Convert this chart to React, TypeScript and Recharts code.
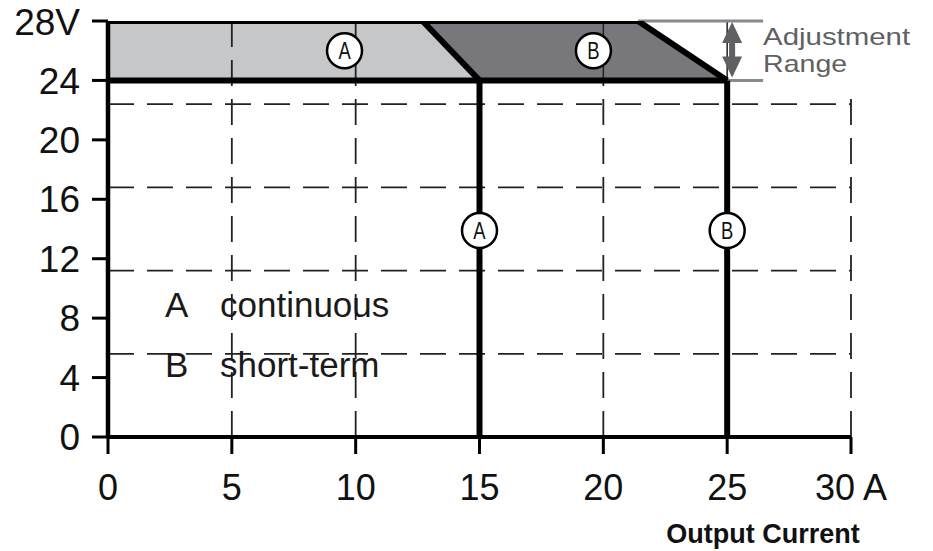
import React from 'react';
import { ComposedChart, Area, Line, XAxis, YAxis, ReferenceLine, ReferenceDot, Legend } from 'recharts';

const currentTicks = [0, 5, 10, 15, 20, 25, 30];
const currentTickLabels = ['0', '5', '10', '15', '20', '25', '30 A'];
const voltTicks = [0, 4, 8, 12, 16, 20, 24, 28];
const voltTickLabels = ['0', '4', '8', '12', '16', '20', '24', '28V'];

// shaded regions, range areas [low, high] in volts
const regionCurrent = [0, 12.7, 15, 21.4, 25];
const continuousLow = [24, 24, 24, null, null];
const continuousHigh = [28, 28, 24, null, null];
const shortTermLow = [null, 28, 24, 24, 24];
const shortTermHigh = [null, 28, 28, 28, 24];

// boundary curves
const outerCurrent = [0, 21.4, 25];
const outerVolt = [28, 28, 24];
const splitCurrent = [12.7, 15];
const splitVolt = [28, 24];
const floorCurrent = [0, 25];
const floorVolt = [24, 24];
const contDropCurrent = [15, 15];
const contDropVolt = [24, 0];
const shortDropCurrent = [25, 25];
const shortDropVolt = [24, 0];

// background grid of the original sheet
const gridVolt = [5.6, 11.2, 16.8, 22.4];
const gridCurrent = [5, 10];

const markerNames = ['A', 'B', 'A', 'B'];
const markerCurrent = [9.55, 19.6, 15, 25];
const markerVolt = [26, 26, 13.9, 13.9];

const legendKeys = ['A', 'B'];
const legendNames = ['continuous', 'short-term'];

const FONT = '"Liberation Sans", Arial, sans-serif';
const FILL_A = '#c6c7c9';
const FILL_B = '#78787c';
const DASH = '26 13';

const regionData = regionCurrent.map((x, i) => ({
  x,
  cont: continuousLow[i] == null ? null : [continuousLow[i], continuousHigh[i]],
  short: shortTermLow[i] == null ? null : [shortTermLow[i], shortTermHigh[i]],
}));

const toPoints = (xs: number[], vs: number[]) => xs.map((x, i) => ({ x, v: vs[i] }));
const curves = [
  toPoints(outerCurrent, outerVolt),
  toPoints(splitCurrent, splitVolt),
  toPoints(floorCurrent, floorVolt),
  toPoints(contDropCurrent, contDropVolt),
  toPoints(shortDropCurrent, shortDropVolt),
];

const AdjustArrow = (props: any) => {
  const { x1, y1, y2 } = props;
  const top = Math.min(y1, y2) + 1;
  const bottom = Math.max(y1, y2) - 3;
  const head = 21;
  const hw = 10;
  const sw = 3;
  const d = `M${x1},${top} L${x1 + hw},${top + head} L${x1 + sw},${top + head} L${x1 + sw},${bottom - head} L${x1 + hw},${bottom - head} L${x1},${bottom} L${x1 - hw},${bottom - head} L${x1 - sw},${bottom - head} L${x1 - sw},${top + head} L${x1 - hw},${top + head} Z`;
  return (
    <g>
      <path d={d} fill="#5f6063" />
      <text x={x1 + 31} y={top + 23} fontFamily={FONT} fontSize={24} fill="#5f6063"
        textLength={147} lengthAdjust="spacingAndGlyphs">Adjustment</text>
      <text x={x1 + 31} y={top + 50} fontFamily={FONT} fontSize={24} fill="#5f6063"
        textLength={84} lengthAdjust="spacingAndGlyphs">Range</text>
    </g>
  );
};

const markerLabel = (name: string) => (props: any) => {
  const vb = props.viewBox || {};
  const cx = vb.x + vb.width / 2;
  const cy = vb.y + vb.height / 2;
  return (
    <text x={cx} y={cy + 8.5} textAnchor="middle" fontFamily={FONT} fontSize={23} fill="#111"
      transform={`translate(${cx},0) scale(0.8,1) translate(${-cx},0)`}>
      {name}
    </text>
  );
};

const axisTitle = (props: any) => {
  const vb = props.viewBox || {};
  return (
    <text x={vb.x + vb.width - 88} y={vb.y + 106} textAnchor="middle" fontFamily={FONT}
      fontSize={27} fontWeight="bold" fill="#111">
      Output Current
    </text>
  );
};

const legendContent = () => (
  <div style={{ fontFamily: FONT, fontSize: 35, color: '#1a1a1a', lineHeight: '60px' }}>
    {legendKeys.map((k, i) => (
      <div key={k} style={{ whiteSpace: 'nowrap' }}>
        <span style={{ display: 'inline-block', width: 55 }}>{k}</span>
        {legendNames[i]}
      </div>
    ))}
  </div>
);

export default function App() {
  return (
    <div style={{ position: 'absolute', left: 0, top: 0, background: '#fff' }}>
      <ComposedChart width={933} height={551} data={regionData}
        margin={{ top: 21, right: 82, bottom: 0, left: 8 }}>
        <XAxis dataKey="x" type="number" domain={[0, 30]} ticks={currentTicks} allowDataOverflow
          tickFormatter={(v: number) => currentTickLabels[currentTicks.indexOf(v)]}
          height={114} tickSize={17} tickMargin={20}
          axisLine={{ stroke: '#000', strokeWidth: 4 }} tickLine={{ stroke: '#000', strokeWidth: 3 }}
          tick={{ fill: '#111', fontSize: 36, fontFamily: FONT }}
          label={axisTitle} />
        <YAxis type="number" domain={[0, 28]} ticks={voltTicks} allowDataOverflow
          tickFormatter={(v: number) => voltTickLabels[voltTicks.indexOf(v)]}
          width={100} tickSize={16} tickMargin={12}
          axisLine={{ stroke: '#000', strokeWidth: 4.5 }} tickLine={{ stroke: '#000', strokeWidth: 3 }}
          tick={{ fill: '#111', fontSize: 37, fontFamily: FONT }} />

        <Area dataKey="cont" type="linear" fill={FILL_A} fillOpacity={1} stroke="none"
          isAnimationActive={false} />
        <Area dataKey="short" type="linear" fill={FILL_B} fillOpacity={1} stroke="none"
          isAnimationActive={false} />

        {gridVolt.map((v) => (
          <ReferenceLine key={'h' + v} y={v} stroke="#222" strokeWidth={1.8} strokeDasharray={DASH} zIndex={200} />
        ))}
        {gridCurrent.map((c) => (
          <ReferenceLine key={'v' + c} x={c} stroke="#222" strokeWidth={1.8} strokeDasharray={DASH} zIndex={200} />
        ))}
        <ReferenceLine segment={[{ x: 20, y: 0 }, { x: 20, y: 24 }]} stroke="#222" strokeWidth={1.8} strokeDasharray={DASH} zIndex={200} />
        <ReferenceLine segment={[{ x: 20, y: 24 }, { x: 20, y: 28 }]} stroke="#222" strokeWidth={1.5} zIndex={200} />
        <ReferenceLine segment={[{ x: 25, y: 24 }, { x: 25, y: 28 }]} stroke="#222" strokeWidth={1.5} zIndex={200} />
        <ReferenceLine segment={[{ x: 30, y: 0 }, { x: 30, y: 22.9 }]} stroke="#222" strokeWidth={1.8} strokeDasharray={DASH} zIndex={200} />

        <ReferenceLine segment={[{ x: 21.4, y: 28 }, { x: 26.45, y: 28 }]} stroke="#88898c" strokeWidth={3} zIndex={200} />
        <ReferenceLine segment={[{ x: 25, y: 24 }, { x: 26.45, y: 24 }]} stroke="#88898c" strokeWidth={3} zIndex={200} />
        <ReferenceLine segment={[{ x: 25.2, y: 28 }, { x: 25.2, y: 24 }]} shape={AdjustArrow} zIndex={200} />

        {curves.map((pts, i) => (
          <Line key={'c' + i} data={pts} dataKey="v" type="linear" stroke="#000" strokeWidth={6}
            strokeLinejoin="miter" dot={false} activeDot={false} isAnimationActive={false} />
        ))}

        {markerNames.map((n, i) => (
          <ReferenceDot key={'m' + i} x={markerCurrent[i]} y={markerVolt[i]} r={17.5}
            fill="#fff" stroke="#000" strokeWidth={2.5} label={markerLabel(n)} zIndex={600} />
        ))}

        <Legend layout="vertical" align="center" verticalAlign="middle" content={legendContent}
          wrapperStyle={{ left: 165, top: 275, width: 'auto', height: 'auto' }} />
      </ComposedChart>
    </div>
  );
}
